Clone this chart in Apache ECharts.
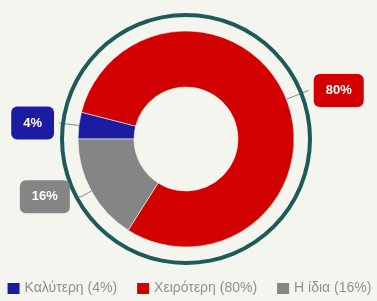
<!DOCTYPE html>
<html><head><meta charset="utf-8">
<script src="https://cdn.jsdelivr.net/npm/echarts@6/dist/echarts.min.js"></script>
<style>html,body{margin:0;padding:0;background:#f5f5f0;}#c{width:377px;height:301px;}</style>
</head><body><div id="c"></div>
<script>
var categories = ['Καλύτερη', 'Χειρότερη', 'Η ίδια'];
var values = [4, 80, 16];

var chart = echarts.init(document.getElementById('c'));
var style = [
  { color: '#1c1ca3', line: [20, 0] },
  { color: '#d20000', line: [24, 0] },
  { color: '#858585', line: [12, 6] }
];
var data = categories.map(function (n, i) {
  return {
    name: n, value: values[i],
    itemStyle: { color: style[i].color },
    label: { backgroundColor: style[i].color },
    labelLine: { length: style[i].line[0], length2: style[i].line[1] }
  };
});
chart.setOption({
  backgroundColor: '#f5f5f0',
  animation: false,
  legend: {
    bottom: 0, left: 'center', itemWidth: 14, itemHeight: 13, itemGap: 18,
    icon: 'rect',
    textStyle: { color: '#8f8f8f', fontSize: 14, fontFamily: 'Liberation Sans', padding: [0, 0, 0, -1] },
    data: categories,
    formatter: function (n) { return n + ' (' + values[categories.indexOf(n)] + '%)'; }
  },
  series: [
    {
      type: 'pie', silent: true, radius: [122, 126], center: [186, 139],
      label: { show: false }, labelLine: { show: false },
      itemStyle: { color: '#1e5a5a' },
      data: [{ value: 1, name: '' }], legendHoverLink: false
    },
    {
      type: 'pie', radius: [52, 108], center: [186, 139],
      startAngle: 180, clockwise: true,
      itemStyle: { borderColor: '#f5f5f0', borderWidth: 0.6 },
      label: {
        show: true, position: 'outside', formatter: '{c}%', overflow: 'none',
        color: '#fff', fontWeight: 'bold', fontSize: 13, fontFamily: 'Liberation Sans',
        padding: [10, 12], borderRadius: 6
      },
      labelLine: { show: true, lineStyle: { color: '#888', width: 1 } },
      data: data
    }
  ]
});
</script></body></html>
